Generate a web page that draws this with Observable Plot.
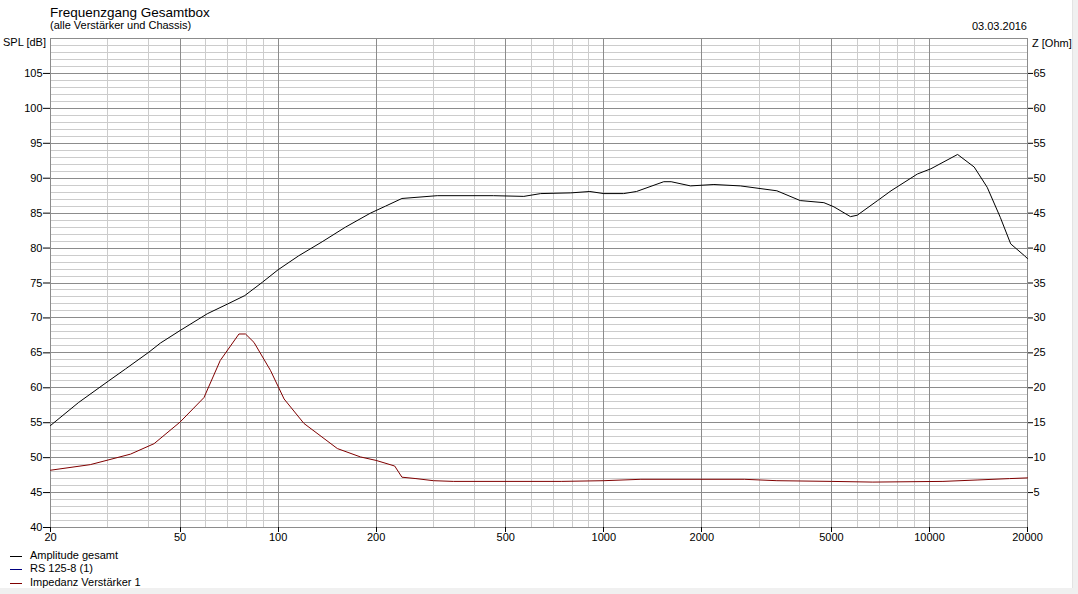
<!DOCTYPE html>
<html>
<head>
<meta charset="utf-8">
<script src="https://cdn.jsdelivr.net/npm/d3@7"></script>
<script src="https://cdn.jsdelivr.net/npm/@observablehq/plot@0.6"></script>
<style>
  html, body { margin: 0; padding: 0; background: #ffffff; }
  #wrap { position: relative; width: 1078px; height: 594px; overflow: hidden; background: #ffffff; }
  #wrap svg { position: absolute; left: 0; top: 0; }
  .t { position: absolute; white-space: nowrap; line-height: 1; color: #000; }
  .n { font-family: "Liberation Sans", Arial, sans-serif; font-size: 11px; }
  .title { font-family: "Liberation Sans", Arial, sans-serif; font-size: 13.5px; }
  .leg { position: absolute; left: 10px; width: 12px; height: 1px; }
  #edgeR { position: absolute; left: 1072px; top: 0; width: 6px; height: 594px; background: #f0f0f0; border-left: 1px solid #e3e3e3; }
  #edgeB { position: absolute; left: 0; top: 588px; width: 1078px; height: 6px; background: #f0f0f0; }
</style>
</head>
<body>
<div id="wrap">
  <div id="edgeR"></div>
  <div id="edgeB"></div>
</div>
<script>
// ---------- data ----------
const ampFreq = [20, 24.4, 30.2, 34, 40.1, 43.5, 50, 60.6, 70, 79, 89.4, 100, 115.7, 136.5, 161, 192, 213.6, 240, 308, 458, 568, 640, 792, 906, 1000, 1150, 1260, 1528, 1610, 1846, 2178, 2626, 3400, 4010, 4740, 5090, 5720, 6000, 6930, 7620, 9180, 10100, 12200, 13720, 15040, 16500, 17760, 19580, 20000];
const ampDb   = [54.6, 57.9, 61.0, 62.7, 65.1, 66.4, 68.2, 70.6, 72.0, 73.2, 75.1, 76.9, 78.9, 80.9, 83.0, 85.0, 86.0, 87.1, 87.5, 87.5, 87.4, 87.8, 87.9, 88.1, 87.8, 87.8, 88.1, 89.5, 89.5, 88.9, 89.1, 88.9, 88.2, 86.8, 86.5, 85.9, 84.5, 84.7, 86.8, 88.2, 90.6, 91.35, 93.4, 91.6, 88.7, 84.4, 80.6, 78.9, 78.5];

const impFreq = [20, 26.5, 35.2, 41.6, 50, 59.2, 66.4, 75.8, 79.4, 84.3, 94.7, 104.3, 120, 152, 179, 200, 228, 240, 265, 300, 345, 740, 1000, 1300, 2700, 3400, 5000, 6700, 11000, 14000, 17600, 20000];
const impOhm  = [8.2, 9.0, 10.5, 12.0, 15.1, 18.6, 23.9, 27.7, 27.7, 26.5, 22.5, 18.4, 14.9, 11.3, 10.1, 9.6, 8.8, 7.2, 7.0, 6.7, 6.6, 6.6, 6.7, 6.9, 6.9, 6.7, 6.6, 6.5, 6.6, 6.8, 7.0, 7.1];

const xTicks = [20, 50, 100, 200, 500, 1000, 2000, 5000, 10000, 20000];
const yTicks = [40, 45, 50, 55, 60, 65, 70, 75, 80, 85, 90, 95, 100, 105];
const zTicks = [5, 10, 15, 20, 25, 30, 35, 40, 45, 50, 55, 60, 65];
const zOffset = 40; // Z [Ohm] axis = SPL [dB] - 40

const legendNames  = ["Amplitude gesamt", "RS 125-8 (1)", "Impedanz Verstärker 1"];
const legendColors = ["#000000", "#000080", "#800000"];

// ---------- derived tables ----------
const amp = ampFreq.map((f, i) => ({f, v: ampDb[i]}));
const imp = impFreq.map((f, i) => ({f, z: impOhm[i]}));
const minorX = [];
for (const dec of [10, 100, 1000, 10000]) for (let k = 1; k <= 9; k++) { const v = k * dec; if (v > 20 && v < 20000 && !xTicks.includes(v)) minorX.push(v); }
const minorY = d3.range(41, 110).filter(v => v % 5 !== 0);
const majorY = d3.range(45, 110, 5);

const chart = Plot.plot({
  width: 1078,
  height: 594,
  marginLeft: 50,
  marginRight: 51,
  marginTop: 38,
  marginBottom: 67,
  style: {fontFamily: "'Liberation Sans', Arial, sans-serif", fontSize: "11px", background: "transparent", color: "#000"},
  x: {type: "log", domain: [20, 20000], axis: null},
  y: {domain: [40, 110]},
  marks: [
    Plot.ruleY(minorY, {stroke: "#cccccc", strokeWidth: 1, shapeRendering: "crispEdges"}),
    Plot.ruleX(minorX, {stroke: "#cccccc", strokeWidth: 1, shapeRendering: "crispEdges"}),
    Plot.ruleY(majorY, {stroke: "#8c8c8c", strokeWidth: 1, shapeRendering: "crispEdges"}),
    Plot.ruleX(xTicks, {stroke: "#8c8c8c", strokeWidth: 1, shapeRendering: "crispEdges"}),
    Plot.frame({stroke: "#8c8c8c", shapeRendering: "crispEdges"}),
    Plot.axisY({ticks: yTicks, anchor: "left", tickSize: 7, tickPadding: 1, label: null, stroke: "#000"}),
    Plot.axisY({ticks: zTicks.map(z => z + zOffset), anchor: "right", tickSize: 5, tickPadding: 1, tickFormat: d => d - zOffset, label: null, stroke: "#000"}),
    // bottom axis drawn by hand (log-scale axis drops the 5×10^n labels)
    Plot.ruleX(xTicks, {y1: 40, y2: 39.3, stroke: "#000", shapeRendering: "crispEdges"}),
    Plot.text(xTicks, {x: d => d, text: d => String(d), frameAnchor: "bottom", lineAnchor: "top", dy: 6, fill: "#000"}),
    Plot.line(imp, {x: "f", y: d => d.z + zOffset, stroke: "#800000", strokeWidth: 1}),
    Plot.line(amp, {x: "f", y: "v", stroke: "#000000", strokeWidth: 1})
  ]
});
const wrap = document.getElementById("wrap");
wrap.appendChild(chart);

// ---------- texts ----------
function addText(txt, cls, x, baseline, fs, align) {
  const d = document.createElement("div");
  d.className = "t " + cls;
  d.textContent = txt;
  d.style.top = (baseline - 0.85 * fs) + "px";
  if (align === "right") { d.style.right = (1078 - x) + "px"; } else { d.style.left = x + "px"; }
  wrap.appendChild(d);
}
addText("Frequenzgang Gesamtbox", "title", 50, 17, 13.5);
addText("(alle Verstärker und Chassis)", "n", 50, 29, 11);
addText("03.03.2016", "n", 1027, 30.5, 11, "right");
addText("SPL [dB]", "n", 3, 46.5, 11);
addText("Z [Ohm]", "n", 1032, 47, 11);
const legBase = [559, 572.5, 586];
legendNames.forEach((name, i) => {
  const l = document.createElement("div");
  l.className = "leg";
  l.style.top = (legBase[i] - 3.5) + "px";
  l.style.background = legendColors[i];
  wrap.appendChild(l);
  addText(name, "n", 30, legBase[i], 11);
});
</script>
</body>
</html>
